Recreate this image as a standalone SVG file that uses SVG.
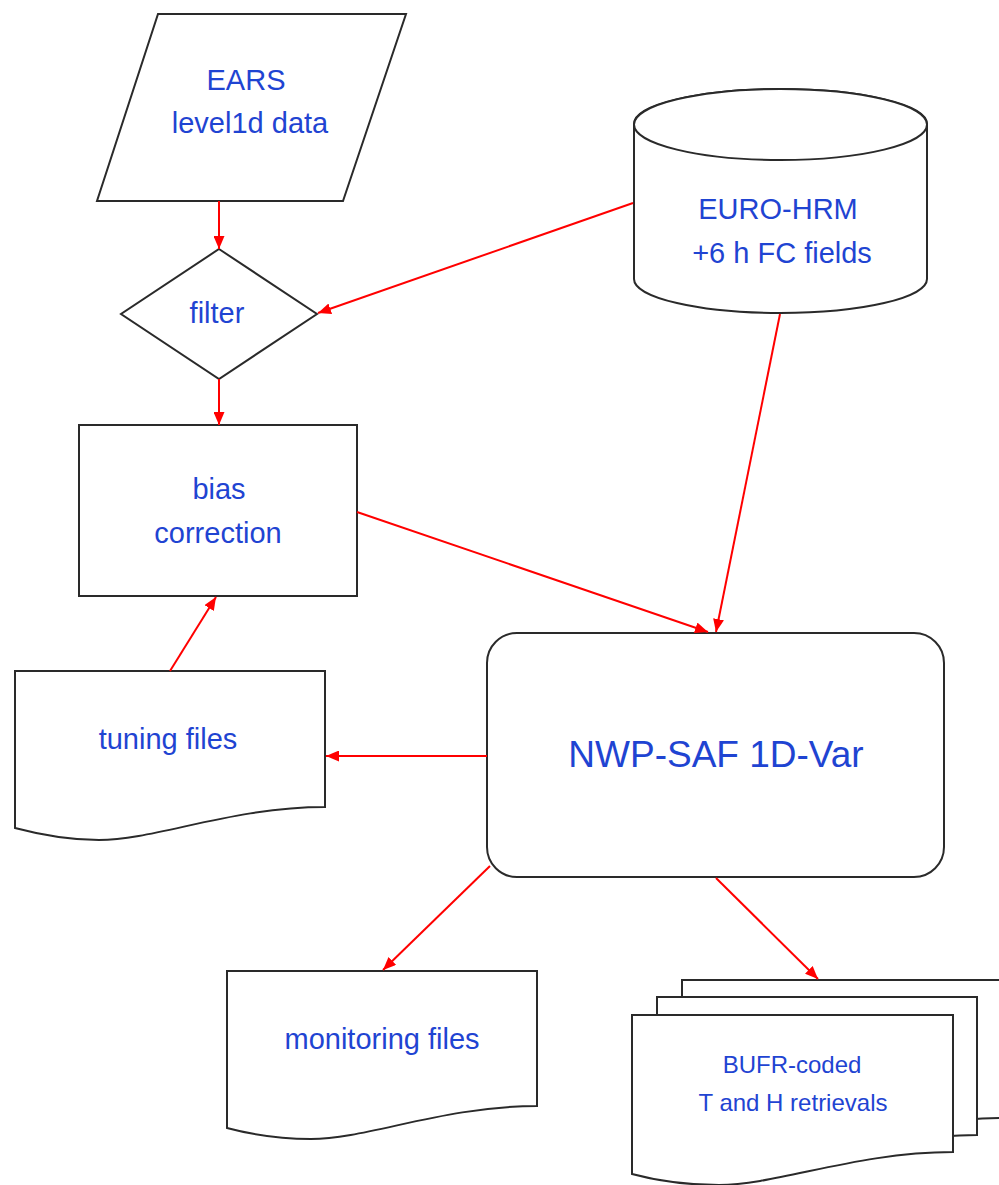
<svg xmlns="http://www.w3.org/2000/svg" width="999" height="1185" viewBox="0 0 999 1185">
<style>
.node{fill:#fff;stroke:#2a2a2a;stroke-width:2}
.lbl{font-family:"Liberation Sans",Arial,sans-serif;font-size:29px;fill:#1f44d2;text-anchor:middle}
.edge{stroke:#ff0000;stroke-width:2;fill:none;marker-end:url(#ah)}
</style>
<defs>
<marker id="ah" markerUnits="userSpaceOnUse" markerWidth="13" markerHeight="11" refX="13" refY="5.5" orient="auto">
<path d="M0,0 L13,5.5 L0,11 z" fill="#ff0000"/>
</marker>
</defs>
<rect width="999" height="1185" fill="#fff"/>
<g id="ears">
<path class="node" d="M158,14 L406,14 L343,201 L97,201 Z"/>
<text class="lbl" x="246" y="90">EARS</text>
<text class="lbl" x="250" y="133">level1d data</text>
</g>
<g id="filter">
<path class="node" d="M219,249 L317,314 L219,379 L121,314 Z"/>
<text class="lbl" x="217" y="323">filter</text>
</g>
<g id="euro-hrm">
<path class="node" d="M634,124 L634,279 A146.5,34 0 0 0 927,279 L927,124 A146.5,35 0 0 0 634,124 Z"/>
<ellipse class="node" cx="780.5" cy="124.5" rx="146.5" ry="35.5"/>
<text class="lbl" x="778" y="219">EURO-HRM</text>
<text class="lbl" x="782" y="263">+6 h FC fields</text>
</g>
<g id="bias">
<rect class="node" x="79" y="425" width="278" height="171"/>
<text class="lbl" x="219" y="499">bias</text>
<text class="lbl" x="218" y="543">correction</text>
</g>
<g id="tuning">
<path class="node" d="M15,671 L325,671 L325,807 C232,807 155,840 99,840 C60,840 30,832 15,828 Z"/>
<text class="lbl" x="168" y="749">tuning files</text>
</g>
<g id="nwp">
<rect class="node" x="487" y="633" width="457" height="244" rx="30" ry="30"/>
<text class="lbl" x="716" y="767" style="font-size:37px">NWP-SAF 1D-Var</text>
</g>
<g id="monitoring">
<path class="node" d="M227,971 L537,971 L537,1106 C444,1106 367,1139 311,1139 C272,1139 242,1132 227,1128 Z"/>
<text class="lbl" x="382" y="1049">monitoring files</text>
</g>
<g id="bufr">
<path class="node" d="M682,980 L1003,980 L1003,1118 C910,1118 830,1151 772,1151 C730,1151 700,1144 682,1140 Z"/>
<path class="node" d="M657,997 L977,997 L977,1135 C884,1135 804,1168 746,1168 C705,1168 675,1161 657,1157 Z"/>
<path class="node" d="M632,1015 L953,1015 L953,1152 C857,1152 777,1185 719,1185 C678,1185 647,1178 632,1174 Z"/>
<text class="lbl" x="792" y="1073" style="font-size:24px">BUFR-coded</text>
<text class="lbl" x="793" y="1111" style="font-size:24px">T and H retrievals</text>
</g>
<g id="connectors">
<line class="edge" x1="219" y1="201" x2="219" y2="249"/>
<line class="edge" x1="219" y1="379" x2="219" y2="425"/>
<line class="edge" x1="633" y1="203" x2="318" y2="313"/>
<line class="edge" x1="780" y1="314" x2="716" y2="632"/>
<line class="edge" x1="357" y1="512" x2="708" y2="632"/>
<line class="edge" x1="170" y1="671" x2="216" y2="597"/>
<line class="edge" x1="487" y1="756" x2="326" y2="756"/>
<line class="edge" x1="490" y1="866" x2="383" y2="970"/>
<line class="edge" x1="716" y1="878" x2="818" y2="979"/>
</g>
</svg>
